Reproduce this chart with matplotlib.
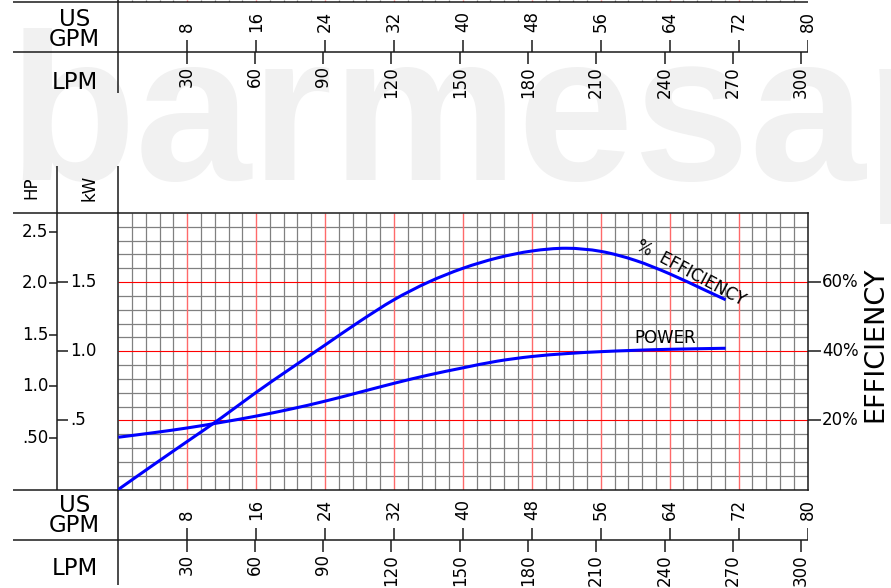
import matplotlib
matplotlib.use("Agg")
import matplotlib.pyplot as plt
from matplotlib.path import Path
from matplotlib.patches import PathPatch
import numpy as np

plt.rcParams['font.family'] = ['DejaVu Sans']

# ---------------- data ----------------
gpm_ticks = [8, 16, 24, 32, 40, 48, 56, 64, 72, 80]
lpm_ticks = [30, 60, 90, 120, 150, 180, 210, 240, 270, 300]
hp_ticks = [0.5, 1.0, 1.5, 2.0, 2.5]
hp_labels = [".50", "1.0", "1.5", "2.0", "2.5"]
kw_ticks = [0.5, 1.0, 1.5]
kw_labels = [".5", "1.0", "1.5"]
eff_ticks = [20, 40, 60]
eff_labels = ["20%", "40%", "60%"]

eff_gpm = [0, 4, 8, 12, 16, 20, 24, 28, 32, 36, 40, 44, 48, 52, 56, 60, 64, 68, 70.5]
eff_pct = [0, 7.0, 13.9, 20.8, 28.1, 35.0, 41.8, 48.6, 54.9, 60.0, 64.0, 67.0, 69.0,
           69.8, 68.9, 66.3, 62.4, 57.8, 54.9]

power_gpm = [0, 4, 8, 12, 16, 20, 24, 28, 32, 36, 40, 44, 48, 52, 56, 60, 64, 70.5]
power_hp = [0.507, 0.550, 0.597, 0.652, 0.712, 0.780, 0.857, 0.943, 1.03, 1.11, 1.18,
            1.245, 1.29, 1.318, 1.337, 1.35, 1.36, 1.37]

GPM_MAX = 80
KW_MAX = 2.0
HP_PER_KW = 1 / 0.7457
EFF_MAX = 80
LPM_PER_GPM = 3.78541

# ---------------- layout ----------------
W, H = 891, 588
fig = plt.figure(figsize=(W / 100, H / 100), dpi=100)
fig.patch.set_facecolor('white')


def px_axes(x0, y0, x1, y1, z=1):
    a = fig.add_axes([x0 / W, 1 - y1 / H, (x1 - x0) / W, (y1 - y0) / H])
    a.set_zorder(z)
    a.patch.set_alpha(0)
    return a


def smooth_path(xs, ys):
    pts = np.column_stack([xs, ys]).astype(float)
    n = len(pts)
    verts = [pts[0]]
    codes = [Path.MOVETO]
    for i in range(n - 1):
        p0 = pts[i - 1] if i > 0 else pts[i]
        p1 = pts[i]
        p2 = pts[i + 1]
        p3 = pts[i + 2] if i + 2 < n else pts[i + 1]
        verts += [p1 + (p2 - p0) / 6, p2 - (p3 - p1) / 6, p2]
        codes += [Path.CURVE4] * 3
    return Path(verts, codes)


PL, PR, PT, PB = 118.3, 807.5, 213.0, 489.5
LINE_C = '#1a1a1a'
LW = 1.1
TICK_FS = 12
CURVE_C = '#0000ff'
GRID_C = '#808080'

# watermark (behind everything)
wm = px_axes(0, 0, W, H, z=-1)
wm.set_xlim(0, W)
wm.set_ylim(H, 0)
wm.axis('off')
wt = wm.text(8, 180, 'barmesap', fontsize=175, fontweight='bold',
             family=['Liberation Sans Narrow', 'DejaVu Sans Condensed', 'Liberation Sans'],
             fontstretch='condensed',
             color='#f1f1f1', ha='left', va='baseline')
fig.canvas.draw()
bb = wt.get_window_extent(fig.canvas.get_renderer())
wt.set_fontsize(175 * 985 / bb.width)

# main plot axes (kW scale)
ax = px_axes(PL, PT, PR, PB, z=2)
ax.patch.set_alpha(1)
ax.set_facecolor('white')
ax.set_xlim(0, GPM_MAX)
ax.set_ylim(0, KW_MAX)
ax.set_xticks([])
ax.set_yticks([])
minor_x = [v for v in np.arange(1.6, GPM_MAX, 1.6) if abs(v / 8 - round(v / 8)) > 1e-6]
minor_y = [v for v in np.arange(0.1, KW_MAX, 0.1) if abs(v / 0.5 - round(v / 0.5)) > 1e-6]
ax.vlines(minor_x, 0, KW_MAX, color=GRID_C, lw=0.9, zorder=1)
ax.hlines(minor_y, 0, GPM_MAX, color=GRID_C, lw=0.9, zorder=1)
ax.vlines(gpm_ticks[:-1], 0, KW_MAX, color='#ff6a6a', lw=1.0, zorder=2)
ax.hlines(kw_ticks, 0, GPM_MAX, color='#ff0000', lw=0.8, zorder=2)
for s in ax.spines.values():
    s.set_color(LINE_C)
    s.set_linewidth(LW)

# efficiency curve on efficiency scale
ax_eff = px_axes(PL, PT, PR, PB, z=3)
ax_eff.set_xlim(0, GPM_MAX)
ax_eff.set_ylim(0, EFF_MAX)
ax_eff.axis('off')
ax_eff.add_patch(PathPatch(smooth_path(eff_gpm, eff_pct), facecolor='none',
                           edgecolor=CURVE_C, lw=2.2, capstyle='butt'))
ax_eff.text(66.5, 62.5, "%  EFFICIENCY", rotation=-28, rotation_mode='anchor',
            ha='center', va='center', fontsize=12)

# power curve on HP scale
ax_hp = px_axes(PL, PT, PR, PB, z=3)
ax_hp.set_xlim(0, GPM_MAX)
ax_hp.set_ylim(0, KW_MAX * HP_PER_KW)
ax_hp.axis('off')
ax_hp.add_patch(PathPatch(smooth_path(power_gpm, power_hp), facecolor='none',
                          edgecolor=CURVE_C, lw=2.2, capstyle='butt'))
ax_hp.text(63.5, 1.465, "POWER", ha='center', va='center', fontsize=12)

# HP strip
s_hp = px_axes(0, PT, 57, PB)
s_hp.set_xlim(0, 57)
s_hp.set_ylim(0, KW_MAX * HP_PER_KW)
s_hp.axis('off')
s_hp.hlines(hp_ticks, 48.5, 57, color=LINE_C, lw=LW)
for v, lab in zip(hp_ticks, hp_labels):
    s_hp.text(48, v, lab, ha='right', va='center', fontsize=TICK_FS)

# kW strip
s_kw = px_axes(57, PT, PL, PB)
s_kw.set_xlim(57, PL)
s_kw.set_ylim(0, KW_MAX)
s_kw.axis('off')
s_kw.hlines(kw_ticks, 57, 68, color=LINE_C, lw=LW)
for v, lab in zip(kw_ticks, kw_labels):
    s_kw.text(70, v, lab, ha='left', va='center', fontsize=TICK_FS)

# efficiency strip
s_ef = px_axes(PR, PT, W, PB)
s_ef.set_xlim(PR, W)
s_ef.set_ylim(0, EFF_MAX)
s_ef.axis('off')
s_ef.hlines(eff_ticks, PR, 821, color=LINE_C, lw=LW)
for v, lab in zip(eff_ticks, eff_labels):
    s_ef.text(822, v, lab, ha='left', va='center', fontsize=TICK_FS)

# GPM / LPM scales (bottom and top copies)
for off in (0.0, -488.0):
    g = px_axes(PL, PB + off - 2, PR, 588 + off)
    g.set_xlim(0, GPM_MAX)
    g.set_ylim(588 + off, PB + off - 2)
    g.axis('off')
    g.vlines(gpm_ticks, 528 + off, 540 + off, color=LINE_C, lw=LW)
    for v in gpm_ticks:
        g.text(v, 520 + off, str(v), rotation=90, ha='center', va='bottom',
               fontsize=TICK_FS)
    l = px_axes(PL, PB + off - 2, PR, 588 + off)
    l.set_xlim(0, GPM_MAX * LPM_PER_GPM)
    l.set_ylim(588 + off, PB + off - 2)
    l.axis('off')
    l.vlines(lpm_ticks, 540 + off, 552 + off, color=LINE_C, lw=LW)
    for v in lpm_ticks:
        l.text(v, 554 + off, str(v), rotation=90, ha='center', va='top',
               fontsize=TICK_FS)

# top stubs of the chart above (cropped)
stub = px_axes(PL, 0, PR, 2)
stub.set_xlim(0, GPM_MAX)
stub.set_ylim(2, 0)
stub.axis('off')
stub.vlines(minor_x, 0, 1.5, color=GRID_C, lw=0.9)
stub.vlines(gpm_ticks[:-1], 0, 1.5, color='#ff6a6a', lw=1.0)

# structural frame lines and labels
fr = px_axes(0, 0, W, H, z=5)
fr.set_xlim(0, W)
fr.set_ylim(H, 0)
fr.axis('off')
hl = [(1.5, 13, PR), (52, 13, PR), (PT, 13, PL), (PB, 13, PL), (540, 13, PR)]
for y, x0, x1 in hl:
    fr.plot([x0, x1], [y, y], color=LINE_C, lw=LW, solid_capstyle='butt')
vl = [(PL, 0, 93), (57, 166, PB), (PL, 166, PT), (PL, PB, 585)]
for x, y0, y1 in vl:
    fr.plot([x, x], [y0, y1], color=LINE_C, lw=LW, solid_capstyle='butt')

for off in (0.0, -486.0):
    fr.text(75, 505.5 + off, "US", ha='center', va='center', fontsize=16.5)
    fr.text(74, 525.5 + off, "GPM", ha='center', va='center', fontsize=16.5)
    fr.text(75, 568.5 + off, "LPM", ha='center', va='center', fontsize=16.5)

fr.text(31, 188, "HP", rotation=90, ha='center', va='center', fontsize=TICK_FS)
fr.text(89.5, 188, "kW", rotation=90, ha='center', va='center', fontsize=TICK_FS)
fr.text(875, 344, "EFFICIENCY", rotation=90, ha='center', va='center', fontsize=19.5)

fig.savefig("out.png", dpi=100, facecolor='white')
